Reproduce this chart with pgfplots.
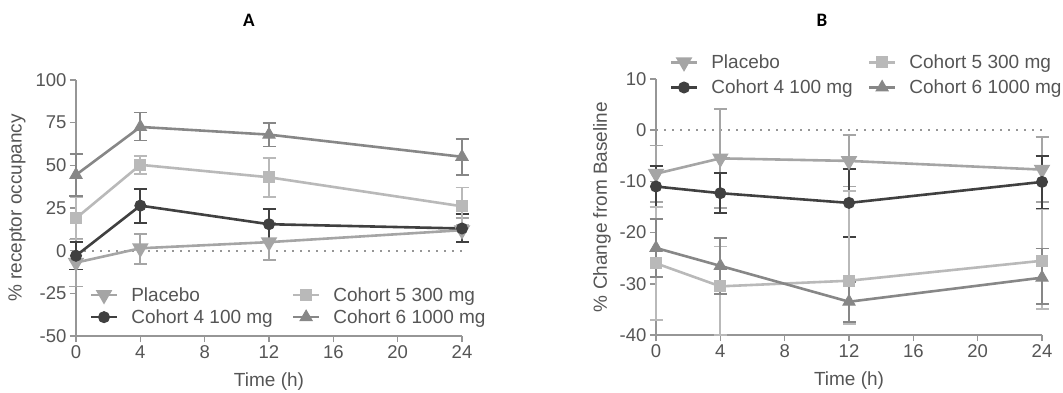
\documentclass[border=0pt]{standalone}
\usepackage{fontspec}
\setmainfont{Liberation Sans}
\newfontfamily\titlefont{Carlito}
\usepackage{pgfplots}
\pgfplotsset{compat=1.18}
\definecolor{axgray}{RGB}{150,150,150}
\definecolor{txtgray}{RGB}{85,85,85}
\definecolor{cPla}{RGB}{165,165,165}
\definecolor{cCA}{RGB}{64,64,64}
\definecolor{cCB}{RGB}{185,185,185}
\definecolor{cCC}{RGB}{135,135,135}

\pgfplotstableread{
x y ep em
0 -7 14 14
4 1.4 8.6 9.4
12 5 11 10.5
24 12 7 7
}\APla
\pgfplotstableread{
x y ep em
0 -3 8 8
4 26.4 9.8 10
12 15.5 9 9
24 13 8.5 8
}\ACA
\pgfplotstableread{
x y ep em
0 19 12.5 12.5
4 50.3 5.3 5.3
12 43 11.5 11.5
24 26 11 11
}\ACB
\pgfplotstableread{
x y ep em
0 44.4 12.4 12.4
4 72.5 8.5 8
12 68 7 7
24 55 10.5 10.5
}\ACC

\pgfplotstableread{
x y ep em
0 -8.5 5.5 5.5
4 -5.5 9.7 9.7
12 -6 5 5
24 -7.7 6.3 6.3
}\BPla
\pgfplotstableread{
x y ep em
0 -11 4 4
4 -12.3 4 3.8
12 -14.2 6.6 6.6
24 -10.1 5.1 5.2
}\BCA
\pgfplotstableread{
x y ep em
0 -26 11 11
4 -30.5 7.8 9.5
12 -29.4 17.5 8.4
24 -25.5 10 9.5
}\BCB
\pgfplotstableread{
x y ep em
0 -23 5.7 5.7
4 -26.5 5.5 5.5
12 -33.5 3.9 3.9
24 -28.8 5.7 5.2
}\BCC

\pgfplotsset{
  panel/.style={
    scale only axis, width=386bp, height=256bp,
    xmin=0, xmax=24, xtick={0,4,...,24},
    axis lines=left, axis line style={axgray, line width=1.8bp, -},
    tick style={axgray, line width=1.5bp}, tick align=outside,
    major tick length=6bp,
    tick label style={font=\fontsize{18.5bp}{22bp}\selectfont, text=txtgray},
    label style={font=\fontsize{19bp}{22bp}\selectfont, text=txtgray},
    /pgf/number format/assume math mode=true,
    clip=false,
    xlabel={Time (h)},
    xlabel style={at={(axis description cs:0.5,-0.18)}, anchor=center},
    legend columns=2, transpose legend, legend cell align=left,
    legend style={draw=none, fill=none, inner sep=0pt,
      font=\fontsize{19bp}{22bp}\selectfont, text=txtgray,
      nodes={inner sep=1bp},
      /tikz/every odd column/.append style={column sep=12bp},
      /tikz/every even column/.append style={column sep=18bp}},
    legend image code/.code={
      \draw[mark repeat=2, mark phase=2] plot coordinates {(0bp,0bp) (13bp,0bp) (26bp,0bp)};},
  },
  ser/.style={line width=2.6bp, color=#1, mark options={fill=#1, draw=#1, solid, line width=1bp},
    /pgfplots/error bars/y dir=both, /pgfplots/error bars/y explicit,
    /pgfplots/error bars/error bar style={line width=1.8bp, color=#1},
    /pgfplots/error bars/error mark options={rotate=90, mark size=6.5bp, line width=1.8bp, color=#1}},
  zeroline/.style={axgray, dash pattern=on 2bp off 6bp, line width=2bp, forget plot},
}

\begin{document}
\begin{tikzpicture}
\path[use as bounding box] (0,0) rectangle (1063bp,393bp);
\node[font=\titlefont\bfseries\fontsize{19bp}{22bp}\selectfont] at (249bp,373bp) {A};
\node[font=\titlefont\bfseries\fontsize{19bp}{22bp}\selectfont] at (822bp,373bp) {B};

\begin{axis}[panel, at={(76bp,57bp)}, anchor=south west,
  ymin=-50, ymax=100, ytick={-50,-25,...,100},
  ylabel={\% receptor occupancy},
  ylabel style={at={(axis description cs:-0.153,0.5)}, anchor=center},
  legend style={at={(0.035,0.195)}, anchor=north west, row sep=5bp}]
\addplot[zeroline] coordinates {(0,0) (24,0)};
\addplot[ser=cPla, mark=triangle*, mark size=7bp, mark options={rotate=180}] table[x=x, y=y, y error plus=ep, y error minus=em] {\APla};
\addlegendentry{Placebo}
\addplot[ser=cCA, mark=*, mark size=5.5bp] table[x=x, y=y, y error plus=ep, y error minus=em] {\ACA};
\addlegendentry{Cohort 4 100 mg}
\addplot[ser=cCB, mark=square*, mark size=5.5bp] table[x=x, y=y, y error plus=ep, y error minus=em] {\ACB};
\addlegendentry{Cohort 5 300 mg}
\addplot[ser=cCC, mark=triangle*, mark size=7bp] table[x=x, y=y, y error plus=ep, y error minus=em] {\ACC};
\addlegendentry{Cohort 6 1000 mg}
\end{axis}

\begin{axis}[panel, at={(656bp,58bp)}, anchor=south west,
  ymin=-40, ymax=10, ytick={-40,-30,...,10},
  ylabel={\% Change from Baseline},
  ylabel style={at={(axis description cs:-0.14,0.5)}, anchor=center},
  legend style={at={(0.035,1.10)}, anchor=north west, row sep=8bp,
    /tikz/every even column/.append style={column sep=14bp}}]
\addplot[zeroline] coordinates {(0,0) (24,0)};
\addplot[ser=cPla, mark=triangle*, mark size=7bp, mark options={rotate=180}] table[x=x, y=y, y error plus=ep, y error minus=em] {\BPla};
\addlegendentry{Placebo}
\addplot[ser=cCA, mark=*, mark size=5.5bp] table[x=x, y=y, y error plus=ep, y error minus=em] {\BCA};
\addlegendentry{Cohort 4 100 mg}
\addplot[ser=cCB, mark=square*, mark size=5.5bp] table[x=x, y=y, y error plus=ep, y error minus=em] {\BCB};
\addlegendentry{Cohort 5 300 mg}
\addplot[ser=cCC, mark=triangle*, mark size=7bp] table[x=x, y=y, y error plus=ep, y error minus=em] {\BCC};
\addlegendentry{Cohort 6 1000 mg}
\end{axis}
\end{tikzpicture}
\end{document}
